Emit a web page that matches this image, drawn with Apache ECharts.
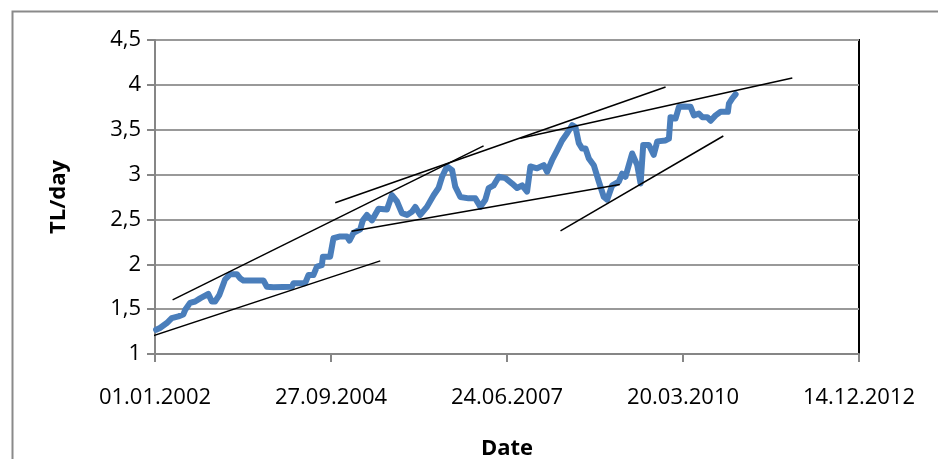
<!DOCTYPE html>
<html>
<head>
<meta charset="utf-8">
<script src="https://cdn.jsdelivr.net/npm/echarts@6/dist/echarts.min.js"></script>
<style>
html,body{margin:0;padding:0;background:#fff;}
#chart{width:938px;height:459px;}
</style>
</head>
<body>
<div id="chart"></div>
<script>
// Days since 01.01.2002
var days = [6,28,67,95,133,161,171,199,228,256,303,323,341,366,398,427,465,483,502,616,635,673,778,787,853,872,900,920,948,954,995,1014,1052,1090,1105,1128,1166,1181,1204,1233,1270,1318,1346,1375,1403,1432,1460,1479,1507,1545,1583,1611,1631,1659,1688,1706,1735,1782,1820,1849,1877,1896,1924,1953,1991,2029,2057,2086,2114,2133,2171,2209,2228,2256,2285,2313,2342,2370,2389,2408,2427,2446,2465,2493,2522,2550,2569,2598,2635,2654,2673,2711,2740,2759,2774,2806,2834,2854,2901,2920,2929,2958,2977,3005,3043,3062,3090,3110,3138,3157,3185,3214,3255,3261,3280,3299];
// TL/day values
var tlPerDay = [1.27,1.29,1.345,1.40,1.42,1.44,1.49,1.57,1.585,1.62,1.67,1.585,1.585,1.66,1.83,1.89,1.89,1.845,1.82,1.82,1.75,1.745,1.75,1.79,1.79,1.88,1.88,1.975,1.99,2.085,2.085,2.29,2.31,2.31,2.265,2.35,2.39,2.49,2.55,2.49,2.62,2.61,2.77,2.70,2.57,2.55,2.585,2.64,2.55,2.64,2.77,2.85,2.975,3.09,3.05,2.865,2.75,2.735,2.735,2.64,2.72,2.85,2.88,2.975,2.96,2.90,2.85,2.88,2.81,3.09,3.07,3.105,3.03,3.16,3.27,3.38,3.46,3.55,3.53,3.35,3.29,3.29,3.18,3.105,2.92,2.75,2.72,2.88,2.92,3.01,2.975,3.235,3.105,2.90,3.33,3.33,3.22,3.37,3.38,3.40,3.64,3.625,3.755,3.76,3.755,3.66,3.68,3.64,3.64,3.60,3.66,3.70,3.70,3.79,3.85,3.895];
// Trend lines: start day, start value, end day, end value
var trendX1 = [-10, 100, 1024, 1117, 2076, 2304];
var trendY1 = [1.204, 1.604, 2.686, 2.368, 3.405, 2.372];
var trendX2 = [1280, 1867, 2901, 2641, 3621, 3229];
var trendY2 = [2.038, 3.32, 3.977, 2.89, 4.077, 3.43];
// Axis ticks
var yTicks = [1, 1.5, 2, 2.5, 3, 3.5, 4, 4.5];
var xTickDays = [0, 1000, 2000, 3000, 4000];
var baseDate = Date.UTC(2002, 0, 1);

function pad(n){return (n<10?'0':'')+n;}
function dayLabel(d){
  var dt = new Date(baseDate + d*86400000);
  return pad(dt.getUTCDate())+'.'+pad(dt.getUTCMonth()+1)+'.'+dt.getUTCFullYear();
}

var FONT = '"Open Sans", "Noto Sans", sans-serif';
var series = [{
  type:'line',
  data: days.map(function(d,i){return [d, tlPerDay[i]];}),
  showSymbol:false,
  lineStyle:{color:'#4A7EBB', width:6, join:'round', cap:'round'},
  z:3
}];
for (var i=0;i<trendX1.length;i++){
  series.push({
    type:'line',
    data:[[trendX1[i],trendY1[i]],[trendX2[i],trendY2[i]]],
    showSymbol:false,
    lineStyle:{color:'#000', width:1.5},
    z:4
  });
}

var chart = echarts.init(document.getElementById('chart'));
chart.setOption({
  animation:false,
  backgroundColor:'#fff',
  graphic:[{
    type:'rect', left:10, top:9, shape:{width:1100, height:1100},
    style:{fill:'none', stroke:'#8a8a8a', lineWidth:2}, z:-1
  }],
  grid:{left:155, top:40, right:79, bottom:105, containLabel:false, outerBoundsMode:'none',
        show:true, borderColor:'#000', borderWidth:2, backgroundColor:'transparent'},
  xAxis:{
    type:'value', min:xTickDays[0], max:xTickDays[xTickDays.length-1], interval:1000,
    name:'Date', nameLocation:'middle', nameGap:84,
    nameTextStyle:{fontFamily:FONT, fontSize:22, fontWeight:'bold', color:'#000'},
    axisLine:{show:true, lineStyle:{color:'#868686', width:2}},
    axisTick:{show:true, length:8, lineStyle:{color:'#868686', width:2}},
    splitLine:{show:false},
    axisLabel:{fontFamily:FONT, fontSize:22, color:'#000', margin:33, formatter:function(v){return dayLabel(v);}}
  },
  yAxis:{
    type:'value', min:yTicks[0], max:yTicks[yTicks.length-1], interval:0.5,
    name:'TL/day', nameLocation:'middle', nameGap:85, nameRotate:90,
    nameTextStyle:{fontFamily:FONT, fontSize:22, fontWeight:'bold', color:'#000'},
    axisLine:{show:true, lineStyle:{color:'#868686', width:2}},
    axisTick:{show:true, length:8, lineStyle:{color:'#868686', width:2}},
    splitLine:{show:true, lineStyle:{color:'#999', width:2}},
    axisLabel:{fontFamily:FONT, fontSize:22, color:'#000', margin:14, formatter:function(v){return String(v).replace('.',',');}}
  },
  series:series
});
</script>
</body>
</html>
